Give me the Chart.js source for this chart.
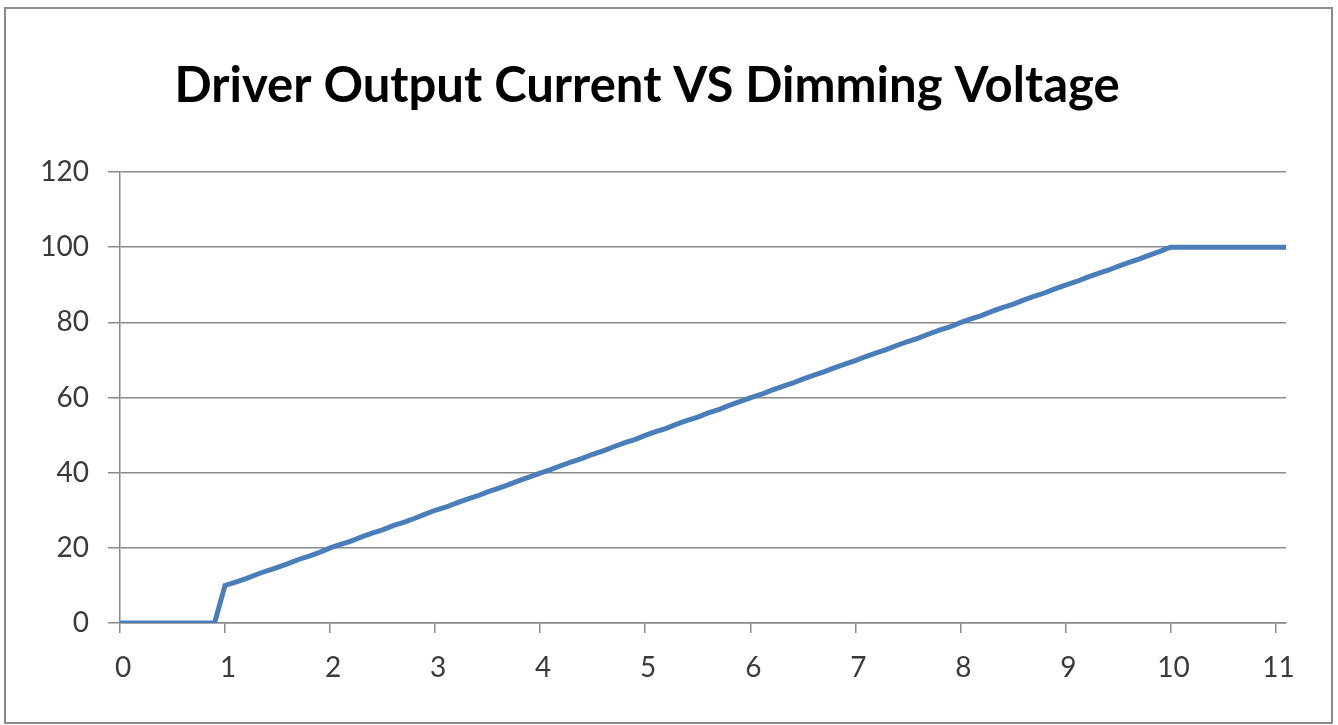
<!DOCTYPE html>
<html>
<head>
<meta charset="utf-8">
<script src="https://cdn.jsdelivr.net/npm/chart.js@4.4.1/dist/chart.umd.min.js"></script>
<style>
  html, body { margin: 0; padding: 0; background: #ffffff; }
  #wrap { width: 1338px; height: 725px; position: relative; }
</style>
</head>
<body>
<div id="wrap"><canvas id="chart" width="1338" height="725"></canvas></div>
<script>
// Dimming control voltage (V), sampled every 0.1 V
const voltage = [
  0.0, 0.1, 0.2, 0.3, 0.4, 0.5, 0.6, 0.7, 0.8, 0.9,
  1.0, 1.1, 1.2, 1.3, 1.4, 1.5, 1.6, 1.7, 1.8, 1.9,
  2.0, 2.1, 2.2, 2.3, 2.4, 2.5, 2.6, 2.7, 2.8, 2.9,
  3.0, 3.1, 3.2, 3.3, 3.4, 3.5, 3.6, 3.7, 3.8, 3.9,
  4.0, 4.1, 4.2, 4.3, 4.4, 4.5, 4.6, 4.7, 4.8, 4.9,
  5.0, 5.1, 5.2, 5.3, 5.4, 5.5, 5.6, 5.7, 5.8, 5.9,
  6.0, 6.1, 6.2, 6.3, 6.4, 6.5, 6.6, 6.7, 6.8, 6.9,
  7.0, 7.1, 7.2, 7.3, 7.4, 7.5, 7.6, 7.7, 7.8, 7.9,
  8.0, 8.1, 8.2, 8.3, 8.4, 8.5, 8.6, 8.7, 8.8, 8.9,
  9.0, 9.1, 9.2, 9.3, 9.4, 9.5, 9.6, 9.7, 9.8, 9.9,
  10.0, 10.1, 10.2, 10.3, 10.4, 10.5, 10.6, 10.7, 10.8, 10.9,
  11.0, 11.1
];

// Driver output current (% of rated)
const outputCurrent = [
  0, 0, 0, 0, 0, 0, 0, 0, 0, 0,
  10.0, 10.9, 11.8, 12.9, 13.9, 14.8, 15.8, 16.9, 17.8, 18.8,
  20.0, 20.9, 21.8, 22.9, 23.9, 24.8, 25.9, 26.8, 27.8, 28.9,
  30.0, 30.8, 31.9, 32.9, 33.8, 34.9, 35.8, 36.8, 37.9, 38.9,
  39.9, 40.8, 41.9, 42.9, 43.8, 44.9, 45.8, 46.9, 47.9, 48.8,
  49.9, 50.9, 51.8, 52.9, 53.9, 54.8, 55.9, 56.8, 57.9, 58.9,
  59.9, 60.8, 61.9, 62.9, 63.8, 64.9, 65.9, 66.8, 67.9, 68.9,
  69.8, 70.9, 71.9, 72.8, 73.9, 74.9, 75.8, 76.9, 77.9, 78.8,
  79.9, 80.9, 81.8, 82.9, 83.9, 84.8, 85.9, 86.9, 87.8, 88.9,
  89.9, 90.8, 91.9, 92.9, 93.8, 94.9, 95.9, 96.8, 97.9, 98.9,
  100, 100, 100, 100, 100, 100, 100, 100, 100, 100,
  100, 100
];

const xTicks = [0, 1, 2, 3, 4, 5, 6, 7, 8, 9, 10, 11];
const yTicks = [0, 20, 40, 60, 80, 100, 120];
const chartTitle = 'Driver Output Current VS Dimming Voltage';

const points = voltage.map((v, i) => ({ x: v, y: outputCurrent[i] }));

// Outer frame and heading drawn on the canvas
const frameAndTitle = {
  id: 'frameAndTitle',
  beforeDraw(chart) {
    const ctx = chart.ctx;
    ctx.save();
    ctx.fillStyle = '#ffffff';
    ctx.fillRect(0, 0, chart.width, chart.height);
    ctx.strokeStyle = '#8a8a8a';
    ctx.lineWidth = 2;
    ctx.strokeRect(5, 8, 1327, 715);
    ctx.restore();
  },
  afterDraw(chart) {
    const ctx = chart.ctx;
    ctx.save();
    ctx.font = 'bold 49px Lato';
    ctx.fillStyle = '#000000';
    ctx.textAlign = 'center';
    ctx.textBaseline = 'alphabetic';
    ctx.fillText(chartTitle, 647, 102);
    ctx.restore();
  }
};

new Chart(document.getElementById('chart'), {
  type: 'line',
  data: {
    datasets: [{
      data: points,
      borderColor: '#4a7ebb',
      borderWidth: 5,
      pointRadius: 0,
      tension: 0,
      fill: false
    }]
  },
  options: {
    responsive: false,
    animation: false,
    layout: { padding: { top: 172, right: 52, bottom: 0, left: 0 } },
    plugins: {
      legend: { display: false },
      title: { display: false },
      tooltip: { enabled: false }
    },
    scales: {
      x: {
        type: 'linear',
        min: 0,
        max: 11.1,
        afterBuildTicks(scale) { scale.ticks = xTicks.map(v => ({ value: v })); },
        afterFit(scale) { scale.height = 102; },
        ticks: {
          includeBounds: false,
          font: { family: 'Lato', size: 28 },
          color: '#3a3a3a',
          padding: 18,
          labelOffset: 3,
          maxRotation: 0
        },
        grid: { drawOnChartArea: false, tickLength: 10, color: '#8a8a8a', lineWidth: 1.5 },
        border: { color: '#8a8a8a', width: 1.5 }
      },
      y: {
        min: 0,
        max: 120,
        afterBuildTicks(scale) { scale.ticks = yTicks.map(v => ({ value: v })); },
        afterFit(scale) { scale.width = 120; },
        ticks: {
          font: { family: 'Lato', size: 28 },
          color: '#3a3a3a',
          padding: 19
        },
        grid: { color: '#8a8a8a', lineWidth: 1.5, tickLength: 12 },
        border: { color: '#8a8a8a', width: 1.5 }
      }
    }
  },
  plugins: [frameAndTitle]
});
</script>
</body>
</html>
